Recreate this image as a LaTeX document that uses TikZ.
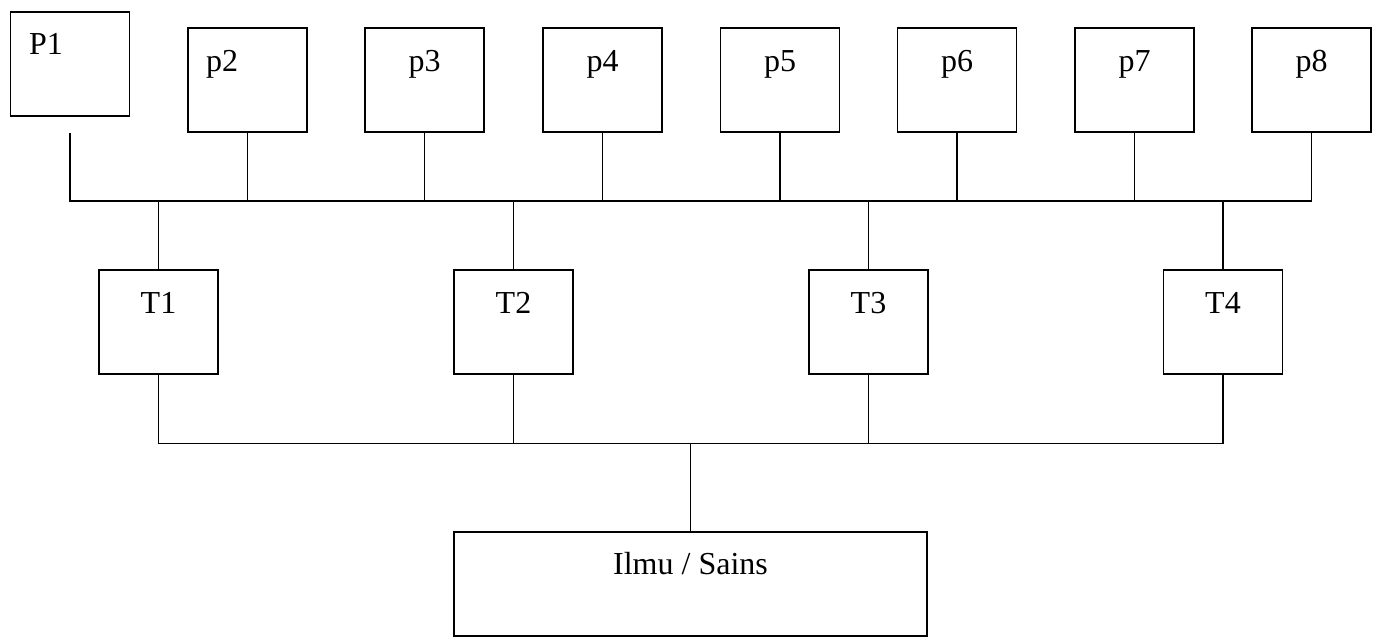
\documentclass[tikz,border=0pt]{standalone}
\usepackage{fontspec}
\setmainfont{Liberation Serif}
\begin{document}
\begin{tikzpicture}[x=0.75pt,y=-0.75pt,
  box/.style={draw=black,line width=1.1pt,rectangle,inner sep=0pt,minimum width=89.25pt,minimum height=78pt},
  bigbox/.style={box,minimum width=354.75pt},
  lbl/.style={anchor=base,inner sep=0pt,font=\fontsize{24}{28}\selectfont},
  wire/.style={draw=black,line width=0.9pt}]
\useasboundingbox (0,0) rectangle (1374,643);
\coordinate (bus1) at (0,201);
\coordinate (bus2) at (0,443.5);
% top boxes
\node[box] (P1) at (70,64) {};
\node[box] (p2) at (247.5,80) {};
\node[box] (p3) at (424.5,80) {};
\node[box] (p4) at (602.5,80) {};
\node[box] (p5) at (780,80) {};
\node[box] (p6) at (957,80) {};
\node[box] (p7) at (1134.5,80) {};
\node[box] (p8) at (1311.5,80) {};
\node[lbl] (tP1) at (46,54) {P1};
\node[lbl] (tp2) at (222,71) {p2};
\node[lbl] (tp3) at (424.5,71) {p3};
\node[lbl] (tp4) at (602.5,71) {p4};
\node[lbl] (tp5) at (780,71) {p5};
\node[lbl] (tp6) at (957,71) {p6};
\node[lbl] (tp7) at (1134.5,71) {p7};
\node[lbl] (tp8) at (1311.5,71) {p8};
% middle boxes
\node[box] (T1) at (158.5,322) {};
\node[box] (T2) at (513.5,322) {};
\node[box] (T3) at (868.5,322) {};
\node[box] (T4) at (1223,322) {};
\node[lbl] (tT1) at (158.5,313) {T1};
\node[lbl] (tT2) at (513.5,313) {T2};
\node[lbl] (tT3) at (868.5,313) {T3};
\node[lbl] (tT4) at (1223,313) {T4};
% bottom box
\node[bigbox] (I) at (690.5,584) {};
\node[lbl] (tI) at (690.5,574) {Ilmu / Sains};
% connectors top
\coordinate (P1s) at (P1.south |- p2.south);
\path[wire] (P1s) |- (p8.south |- bus1) -- (p8.south);
\foreach \n in {p2,p3,p4,p5,p6,p7}{
  \path[wire] (\n.south) -- (\n.south |- bus1);
}
\foreach \n in {T1,T2,T3,T4}{
  \path[wire] (\n.north) -- (\n.north |- bus1);
}
% connectors bottom
\path[wire] (T1.south) |- (T4.south |- bus2) -- (T4.south);
\path[wire] (T2.south) -- (T2.south |- bus2);
\path[wire] (T3.south) -- (T3.south |- bus2);
\path[wire] (I.north) -- (I.north |- bus2);
\end{tikzpicture}
\end{document}
